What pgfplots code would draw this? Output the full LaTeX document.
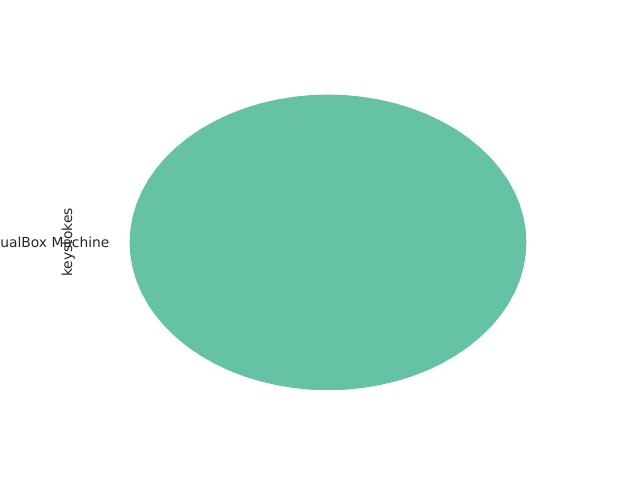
\documentclass[border=0pt]{standalone}
\usepackage{pgfplots}
\pgfplotsset{compat=1.18}
\usepackage{fontspec}
\setmainfont{DejaVu Sans}
\definecolor{slice}{HTML}{66C2A5}
\definecolor{txt}{HTML}{262626}
\begin{document}
\begin{tikzpicture}
\clip (0,0) rectangle (6.4in,4.8in);
\path (0,0) rectangle (6.4in,4.8in);
\begin{axis}[
    at={(0.8in,0.528in)}, anchor=south west,
    scale only axis,
    width=4.96in, height=3.696in,
    xmin=-1.25, xmax=1.25, ymin=-1.25, ymax=1.25,
    axis line style={draw=none},
    ticks=none,
    clip=false,
    font=\fontsize{10}{12}\selectfont,
    ylabel={keystokes},
    ylabel style={at={(axis description cs:0,0.5)}, anchor=south, rotate=0, yshift=0pt, text=txt},
]
% single wedge: 100% of the keystrokes, angle 0..360 on the unit circle
\addplot[fill=slice, draw=none, data cs=polar] coordinates {
(0,1) (5,1) (10,1) (15,1) (20,1) (25,1) (30,1) (35,1) (40,1) (45,1)
(50,1) (55,1) (60,1) (65,1) (70,1) (75,1) (80,1) (85,1) (90,1) (95,1)
(100,1) (105,1) (110,1) (115,1) (120,1) (125,1) (130,1) (135,1) (140,1) (145,1)
(150,1) (155,1) (160,1) (165,1) (170,1) (175,1) (180,1) (185,1) (190,1) (195,1)
(200,1) (205,1) (210,1) (215,1) (220,1) (225,1) (230,1) (235,1) (240,1) (245,1)
(250,1) (255,1) (260,1) (265,1) (270,1) (275,1) (280,1) (285,1) (290,1) (295,1)
(300,1) (305,1) (310,1) (315,1) (320,1) (325,1) (330,1) (335,1) (340,1) (345,1)
(350,1) (355,1) (360,1)
} -- cycle;
\node[anchor=east, inner sep=0pt, text=txt] at (axis cs:-1.1,0) {VirtualBox Machine};
\end{axis}
\end{tikzpicture}
\end{document}
